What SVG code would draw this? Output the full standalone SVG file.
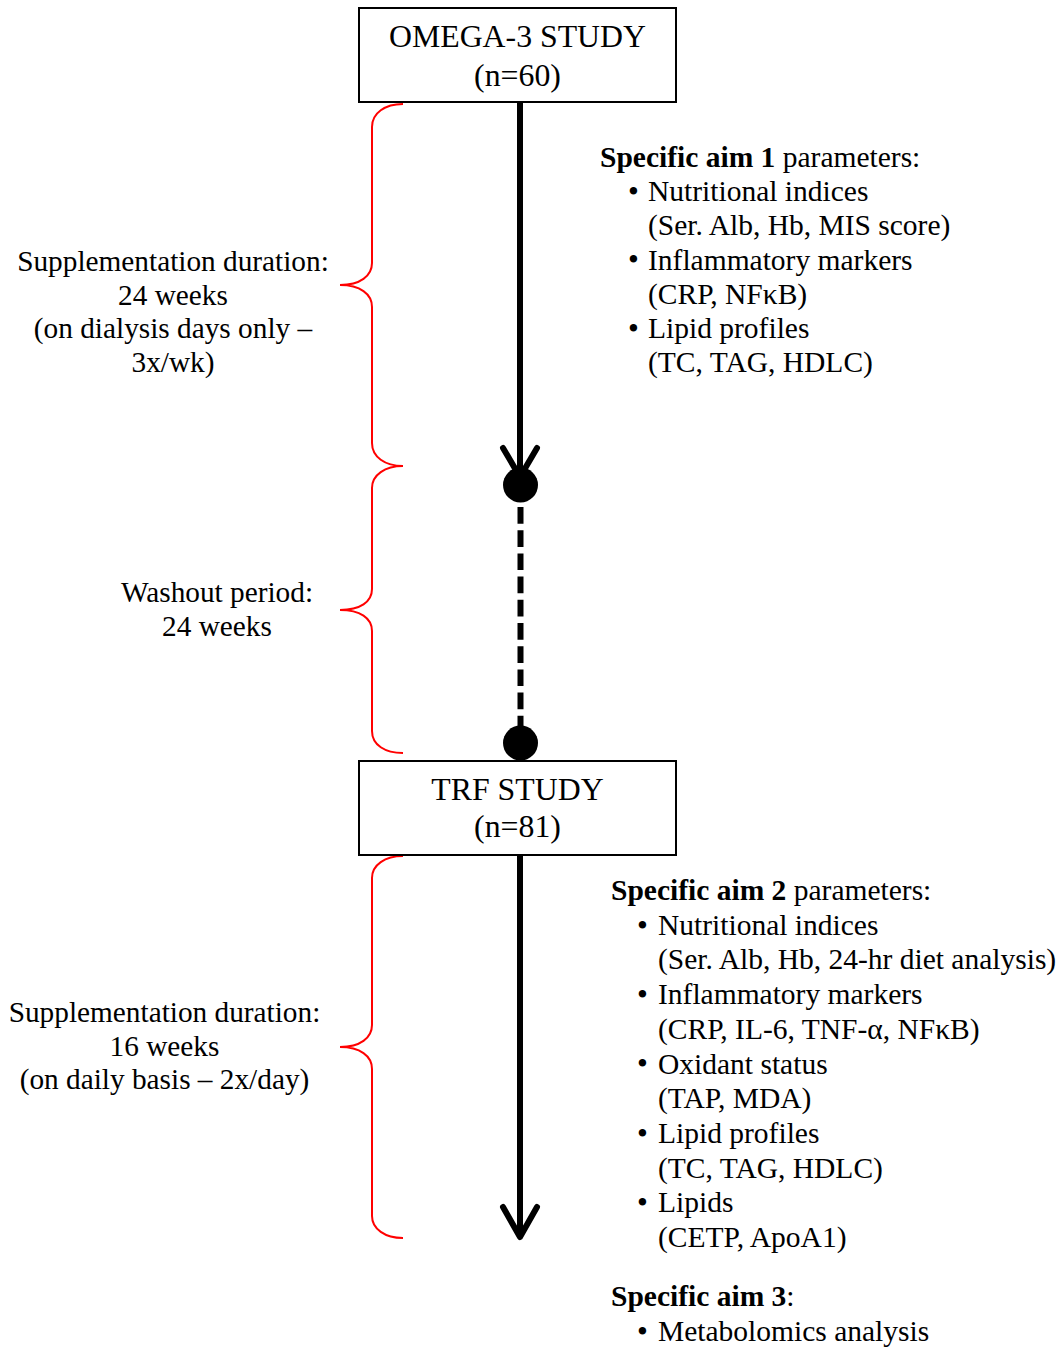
<svg xmlns="http://www.w3.org/2000/svg" width="1060" height="1347" viewBox="0 0 1060 1347">
<style>
text{font-family:"Liberation Serif","Times New Roman",serif;fill:#000}
.box{font-size:31.8px;text-anchor:middle}
.t{font-size:29.5px}
.c{font-size:29.3px;text-anchor:middle}
.b{font-weight:bold}
.bu{font-size:31px}
.node{fill:#fff;stroke:#000;stroke-width:2}
.brace{fill:none;stroke:#f00;stroke-width:2}
.line{stroke:#000;stroke-width:6;fill:none;stroke-linecap:round}
</style>
<rect width="1060" height="1347" fill="#fff"/>
<g id="connectors">
<line class="line" x1="520" y1="102" x2="520" y2="474" style="stroke-linecap:butt"/>
<polyline class="line" points="503,448 520,477 537,448" stroke-linejoin="round"/>
<circle cx="520.5" cy="485" r="17.5" fill="#000"/>
<line x1="520.5" y1="507" x2="520.5" y2="728" stroke="#000" stroke-width="6" stroke-dasharray="16.7 6.5"/>
<circle cx="520.5" cy="743" r="17.5" fill="#000"/>
<line class="line" x1="520" y1="855" x2="520" y2="1236" style="stroke-linecap:butt"/>
<polyline class="line" points="503,1207 520,1237 537,1207" stroke-linejoin="round"/>
</g>
<g id="braces">
<path class="brace" d="M403,104 C385,104 372,113 372,127 L372,263 C372,276 360,285 340,285 C360,285 372,294 372,307 L372,443 C372,457 385,466 403,466"/>
<path class="brace" d="M403,466 C385,466 372,475 372,488 L372,589 C372,602 360,610 340,610 C360,610 372,618 372,631 L372,731 C372,745 385,753 403,753"/>
<path class="brace" d="M403,856 C385,856 372,865 372,878 L372,1025 C372,1038 360,1047 340,1047 C360,1047 372,1056 372,1069 L372,1216 C372,1229 385,1238 403,1238"/>
</g>
<g id="omega">
<rect class="node" x="359" y="8" width="317" height="94"/>
<text class="box" x="517.5" y="47">OMEGA-3 STUDY</text>
<text class="box" x="517.5" y="86">(n=60)</text>
</g>
<g id="trf">
<rect class="node" x="359" y="761" width="317" height="94"/>
<text class="box" x="517.5" y="800">TRF STUDY</text>
<text class="box" x="517.5" y="837">(n=81)</text>
</g>
<g id="supp1">
<text class="c" x="173" y="271">Supplementation duration:</text>
<text class="c" x="173" y="304.5">24 weeks</text>
<text class="c" x="173" y="338">(on dialysis days only –</text>
<text class="c" x="173" y="371.5">3x/wk)</text>
</g>
<g id="washout">
<text class="c" x="217" y="602">Washout period:</text>
<text class="c" x="217" y="636">24 weeks</text>
</g>
<g id="supp2">
<text class="c" x="164.5" y="1022">Supplementation duration:</text>
<text class="c" x="164.5" y="1055.5">16 weeks</text>
<text class="c" x="164.5" y="1089">(on daily basis – 2x/day)</text>
</g>
<g id="aim1">
<text class="t" x="600" y="167"><tspan class="b">Specific aim 1</tspan> parameters:</text>
<text class="t bu" x="628" y="202">•</text>
<text class="t" x="648" y="201.2">Nutritional indices</text>
<text class="t" x="648" y="235.4">(Ser. Alb, Hb, MIS score)</text>
<text class="t bu" x="628" y="270.4">•</text>
<text class="t" x="648" y="269.6">Inflammatory markers</text>
<text class="t" x="648" y="303.8">(CRP, NFκB)</text>
<text class="t bu" x="628" y="338.8">•</text>
<text class="t" x="648" y="338">Lipid profiles</text>
<text class="t" x="648" y="372.2">(TC, TAG, HDLC)</text>
</g>
<g id="aim2">
<text class="t" x="611" y="900"><tspan class="b">Specific aim 2</tspan> parameters:</text>
<text class="t bu" x="637" y="935.5">•</text>
<text class="t" x="658" y="934.7">Nutritional indices</text>
<text class="t" x="658" y="969.4">(Ser. Alb, Hb, 24-hr diet analysis)</text>
<text class="t bu" x="637" y="1004.9">•</text>
<text class="t" x="658" y="1004.1">Inflammatory markers</text>
<text class="t" x="658" y="1038.8">(CRP, IL-6, TNF-α, NFκB)</text>
<text class="t bu" x="637" y="1074.3">•</text>
<text class="t" x="658" y="1073.5">Oxidant status</text>
<text class="t" x="658" y="1108.2">(TAP, MDA)</text>
<text class="t bu" x="637" y="1143.7">•</text>
<text class="t" x="658" y="1142.9">Lipid profiles</text>
<text class="t" x="658" y="1177.6">(TC, TAG, HDLC)</text>
<text class="t bu" x="637" y="1213.1">•</text>
<text class="t" x="658" y="1212.3">Lipids</text>
<text class="t" x="658" y="1247">(CETP, ApoA1)</text>
</g>
<g id="aim3">
<text class="t" x="611" y="1306"><tspan class="b">Specific aim 3</tspan>:</text>
<text class="t bu" x="637" y="1341.8">•</text>
<text class="t" x="658" y="1341">Metabolomics analysis</text>
</g>
</svg>
